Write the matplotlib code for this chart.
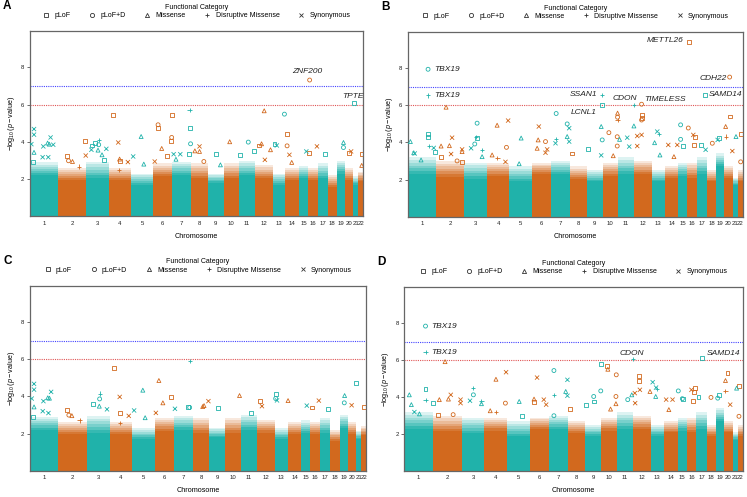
import numpy as np
import matplotlib
matplotlib.use("Agg")
import matplotlib.pyplot as plt

plt.rcParams["font.family"] = ["Liberation Sans", "DejaVu Sans"]
plt.rcParams["mathtext.fontset"] = "custom"
plt.rcParams["mathtext.rm"] = "Liberation Sans"
plt.rcParams["mathtext.it"] = "Liberation Sans:italic"

TEAL = "#20B2AA"
ORANGE = "#D2691E"

CHROMS = list(range(1, 23))
CHROM_LEN = [85, 85, 68, 66, 68, 57, 57, 50, 48, 46, 49, 53, 38, 41, 27, 29, 30, 28, 24, 25, 16, 14]

# bulk of non-significant variants: solid band height and top of the speckled fringe
BULK_AC = [2.2, 1.95, 2.05, 1.95, 1.7, 2.15, 2.2, 2.05, 1.8, 2.05, 2.2, 2.05, 1.7, 1.95, 2.05, 1.95, 2.05, 1.6, 2.3, 1.95, 1.7, 1.9]
TOP_AC = [2.9, 2.6, 2.95, 2.6, 2.3, 2.85, 2.95, 2.85, 2.3, 2.85, 3.0, 2.75, 2.3, 2.6, 2.7, 2.6, 2.85, 2.2, 3.0, 2.6, 2.15, 2.4]
BULK_BD = [2.3, 2.15, 2.05, 2.2, 1.9, 2.3, 2.3, 2.05, 1.9, 2.2, 2.3, 2.3, 1.9, 2.1, 2.2, 2.1, 2.3, 1.9, 2.7, 2.1, 1.7, 1.9]
TOP_BD = [3.2, 3.0, 2.9, 2.9, 2.7, 2.9, 3.0, 2.7, 2.5, 2.9, 3.2, 3.0, 2.5, 2.7, 2.9, 2.9, 3.2, 2.5, 3.4, 2.7, 2.1, 2.5]

CATS = ["pLoF", "pLoF+D", "Missense", "Disruptive Missense", "Synonymous"]
CAT_CODE = ["L", "D", "M", "X", "S"]
MARKERS = {"L": "s", "D": "o", "M": "^", "X": "+", "S": "x"}

# (chromosome, position within chromosome, -log10 p, category)
POINTS_A = [
    (1, 4, 3.88, "S"), (1, 12, 4.69, "S"), (1, 12, 4.39, "S"), (1, 12, 3.44, "M"), (1, 8, 2.9, "L"),
    (1, 40, 3.76, "S"), (1, 53, 3.94, "M"), (1, 58, 3.88, "M"), (1, 62, 4.24, "S"), (1, 70, 3.85, "S"),
    (1, 55, 3.18, "S"), (1, 38, 3.18, "S"),
    (2, 26, 3.26, "L"), (2, 43, 2.95, "M"), (2, 31, 2.99, "D"), (2, 63, 2.68, "X"), (2, 81, 4.06, "L"), (2, 83, 3.27, "S"),
    (3, 17, 3.81, "L"), (3, 25, 3.94, "L"), (3, 38, 4.11, "X"), (3, 37, 3.85, "D"), (3, 35, 3.56, "M"),
    (3, 47, 3.31, "M"), (3, 60, 3.63, "S"), (3, 15, 3.58, "S"), (3, 52, 3.04, "L"),
    (4, 12, 5.46, "L"), (4, 28, 3.97, "S"), (4, 32, 3.0, "L"), (4, 32, 3.08, "M"), (4, 57, 2.92, "S"), (4, 30, 2.5, "X"),
    (5, 31, 4.29, "M"), (5, 7, 3.22, "S"), (5, 39, 2.81, "M"),
    (6, 14, 4.92, "D"), (6, 14, 4.76, "L"), (6, 25, 3.65, "M"), (6, 4, 2.95, "S"), (6, 55, 5.42, "L"),
    (6, 52, 4.06, "L"), (6, 55, 4.24, "D"), (6, 42, 3.25, "L"),
    (7, 52, 5.73, "X"), (7, 54, 4.74, "L"), (7, 55, 3.9, "D"), (7, 49, 3.36, "L"), (7, 4, 3.34, "S"),
    (7, 24, 3.34, "S"), (7, 11, 3.07, "M"),
    (8, 11, 3.52, "M"), (8, 25, 3.49, "M"), (8, 25, 3.76, "S"), (8, 38, 2.95, "D"),
    (9, 26, 3.36, "L"), (9, 38, 2.77, "M"),
    (10, 18, 4.01, "M"),
    (11, 28, 3.99, "D"), (11, 44, 3.49, "L"), (11, 2, 3.31, "L"),
    (12, 27, 5.67, "M"), (12, 12, 3.81, "L"), (12, 19, 3.9, "M"), (12, 29, 3.04, "S"), (12, 46, 3.58, "M"),
    (13, 35, 5.49, "D"), (13, 5, 3.88, "L"), (13, 12, 3.81, "S"),
    (14, 5, 4.42, "L"), (14, 5, 3.79, "D"), (14, 12, 3.31, "S"), (14, 19, 2.9, "M"),
    (15, 22, 3.49, "S"),
    (16, 5, 7.32, "D"), (16, 4, 3.4, "L"), (16, 27, 3.76, "S"),
    (17, 22, 3.36, "L"),
    (19, 20, 3.97, "M"), (19, 20, 3.7, "D"),
    (20, 12, 3.4, "L"), (20, 19, 3.49, "S"),
    (21, 3, 6.07, "L"),
    (22, 10, 3.34, "L"), (22, 10, 2.74, "M"),
]

POINTS_B = [
    (1, 8, 4.04, "M"), (1, 21, 3.4, "S"), (1, 18, 3.44, "M"), (1, 61, 4.43, "L"), (1, 61, 4.29, "L"),
    (1, 63, 3.8, "X"), (1, 78, 3.7, "S"), (1, 83, 3.5, "L"), (1, 40, 3.05, "M"), (1, 61, 7.93, "D"), (1, 61, 6.52, "X"),
    (2, 30, 5.89, "M"), (2, 15, 3.8, "M"), (2, 40, 3.82, "M"), (2, 48, 4.25, "S"), (2, 45, 3.37, "S"),
    (2, 16, 3.23, "L"), (2, 78, 3.62, "S"), (2, 78, 3.5, "M"), (2, 78, 2.95, "L"), (2, 63, 3.0, "D"),
    (3, 38, 5.03, "D"), (3, 35, 4.3, "X"), (3, 38, 4.22, "L"), (3, 31, 3.91, "D"), (3, 20, 3.68, "S"),
    (3, 53, 3.59, "X"), (3, 53, 3.23, "M"),
    (4, 30, 4.92, "M"), (4, 63, 5.17, "S"), (4, 58, 3.73, "D"), (4, 15, 3.32, "M"), (4, 31, 3.14, "X"), (4, 55, 2.95, "S"),
    (5, 36, 4.23, "M"), (5, 30, 2.85, "M"),
    (6, 21, 4.85, "S"), (6, 19, 4.13, "M"), (6, 41, 4.04, "D"), (6, 46, 3.62, "S"), (6, 41, 3.44, "S"), (6, 16, 3.68, "M"),
    (7, 16, 5.55, "D"), (7, 49, 4.31, "M"), (7, 49, 4.99, "D"), (7, 55, 4.76, "S"), (7, 55, 4.04, "S"),
    (7, 16, 4.18, "X"), (7, 14, 3.95, "S"),
    (8, 7, 3.4, "L"),
    (9, 5, 3.62, "L"), (9, 47, 6.56, "X"), (9, 46, 6.02, "L"), (9, 44, 4.85, "M"), (9, 47, 4.13, "D"), (9, 44, 3.3, "S"),
    (10, 19, 4.52, "D"), (10, 32, 3.28, "M"), (10, 45, 5.57, "M"), (10, 45, 5.35, "D"), (10, 45, 5.2, "X"),
    (10, 44, 4.3, "D"), (10, 44, 3.8, "D"),
    (11, 5, 4.16, "M"), (11, 28, 4.25, "S"), (11, 34, 3.77, "S"), (11, 48, 6.02, "X"), (11, 48, 4.88, "M"),
    (12, 22, 6.05, "D"), (12, 22, 5.48, "L"), (12, 22, 5.3, "L"), (12, 22, 5.2, "D"), (12, 9, 4.34, "S"),
    (12, 22, 4.4, "S"), (12, 9, 3.8, "S"),
    (13, 8, 3.98, "M"), (13, 16, 4.58, "S"), (13, 20, 4.43, "X"), (13, 24, 3.32, "M"),
    (14, 11, 3.86, "S"), (14, 28, 3.23, "M"), (14, 38, 3.86, "S"),
    (15, 7, 4.94, "D"), (15, 7, 4.16, "D"), (15, 14, 3.82, "L"),
    (16, 5, 9.42, "L"), (16, 3, 4.77, "D"), (16, 18, 4.4, "S"), (16, 22, 4.3, "L"), (16, 20, 3.85, "L"),
    (17, 24, 6.56, "L"), (17, 11, 3.86, "L"), (17, 26, 3.6, "S"),
    (18, 16, 3.95, "D"),
    (19, 8, 4.22, "L"), (19, 4, 4.13, "S"),
    (20, 16, 7.51, "D"), (20, 16, 5.39, "L"), (20, 4, 4.85, "M"), (20, 4, 4.31, "X"), (20, 24, 3.53, "S"),
    (21, 10, 4.31, "M"),
    (22, 8, 4.43, "L"), (22, 8, 2.95, "D"),
]

POINTS_C = [
    (1, 5, 3.88, "S"), (1, 12, 4.67, "S"), (1, 12, 4.36, "S"), (1, 12, 3.43, "M"), (1, 40, 3.74, "S"),
    (1, 53, 3.92, "M"), (1, 58, 3.9, "M"), (1, 63, 4.24, "S"), (1, 38, 3.2, "S"), (1, 55, 3.1, "S"), (1, 8, 2.9, "L"),
    (2, 26, 3.25, "L"), (2, 40, 2.96, "M"), (2, 31, 2.99, "D"), (2, 63, 2.7, "X"),
    (3, 17, 3.61, "L"), (3, 38, 4.15, "X"), (3, 38, 3.86, "D"), (3, 37, 3.47, "M"), (3, 60, 3.3, "S"),
    (4, 12, 5.53, "L"), (4, 30, 3.97, "S"), (4, 32, 3.08, "L"), (4, 30, 2.57, "X"), (4, 57, 2.95, "S"),
    (5, 33, 4.33, "M"), (5, 7, 3.24, "S"), (5, 40, 2.85, "M"),
    (6, 13, 4.85, "M"), (6, 25, 3.65, "M"), (6, 4, 3.11, "S"), (6, 49, 3.97, "L"),
    (7, 50, 5.89, "X"), (7, 44, 3.42, "L"), (7, 4, 3.33, "S"), (7, 48, 3.4, "D"),
    (8, 34, 3.5, "M"), (8, 47, 3.74, "S"), (8, 30, 3.45, "M"),
    (9, 25, 3.38, "L"),
    (10, 42, 4.04, "M"),
    (11, 30, 3.1, "L"),
    (12, 9, 3.74, "L"), (12, 14, 3.47, "S"),
    (13, 2, 4.1, "L"), (13, 2, 3.88, "D"), (13, 6, 3.78, "S"),
    (14, 1, 3.77, "M"),
    (15, 16, 3.5, "S"),
    (16, 25, 3.77, "S"), (16, 5, 3.4, "L"),
    (17, 22, 3.3, "L"),
    (19, 15, 4.04, "M"), (19, 14, 3.65, "D"),
    (20, 12, 3.52, "S"),
    (21, 1, 4.72, "L"),
    (22, 7, 3.42, "L"),
]

POINTS_D = [
    (1, 63, 7.84, "D"), (1, 63, 6.43, "X"), (1, 15, 4.13, "M"), (1, 21, 3.6, "M"), (1, 63, 4.44, "L"),
    (1, 63, 3.87, "X"), (1, 84, 3.68, "L"), (1, 30, 3.2, "S"), (1, 45, 3.1, "M"),
    (2, 36, 5.92, "M"), (2, 19, 3.87, "M"), (2, 53, 4.13, "S"), (2, 46, 3.9, "M"), (2, 82, 3.87, "S"),
    (2, 82, 3.68, "S"), (2, 60, 3.06, "D"), (2, 15, 3.06, "L"),
    (3, 35, 4.49, "X"), (3, 35, 4.13, "D"), (3, 25, 3.81, "S"), (3, 59, 3.81, "X"), (3, 59, 3.65, "M"),
    (4, 34, 4.97, "M"), (4, 64, 5.35, "S"), (4, 62, 3.68, "D"), (4, 17, 3.27, "M"), (4, 34, 3.18, "X"),
    (5, 37, 3.77, "M"), (5, 45, 3.0, "L"),
    (6, 22, 5.06, "S"), (6, 13, 3.9, "M"), (6, 13, 3.75, "L"), (6, 42, 3.87, "S"), (6, 49, 3.6, "S"),
    (7, 15, 5.44, "D"), (7, 15, 4.1, "X"), (7, 55, 4.94, "S"), (7, 50, 4.31, "M"), (7, 55, 4.08, "S"), (7, 15, 3.0, "D"),
    (8, 6, 3.36, "L"),
    (9, 4, 3.6, "L"), (9, 26, 4.04, "D"), (9, 26, 3.77, "L"), (9, 47, 5.8, "L"), (9, 47, 4.34, "D"),
    (10, 18, 5.68, "L"), (10, 20, 5.51, "M"), (10, 45, 5.21, "D"), (10, 44, 4.04, "D"), (10, 44, 3.65, "M"), (10, 28, 3.36, "M"),
    (11, 49, 6.05, "X"), (11, 45, 4.13, "M"), (11, 33, 3.87, "D"),
    (12, 18, 5.15, "L"), (12, 18, 4.88, "L"), (12, 20, 4.4, "S"), (12, 5, 4.22, "S"), (12, 6, 3.68, "S"), (12, 50, 4.31, "M"),
    (13, 5, 4.81, "S"), (13, 15, 4.52, "S"), (13, 17, 4.44, "X"), (13, 14, 4.04, "M"),
    (14, 7, 3.87, "S"), (14, 26, 3.87, "S"), (14, 15, 3.33, "M"),
    (15, 2, 4.34, "D"), (15, 14, 3.92, "D"), (15, 17, 3.92, "L"),
    (16, 24, 4.52, "L"), (16, 22, 4.28, "L"), (16, 14, 4.4, "S"), (16, 18, 3.8, "L"),
    (17, 16, 6.1, "L"), (17, 6, 4.0, "L"),
    (18, 13, 3.99, "D"),
    (19, 9, 4.13, "L"), (19, 5, 3.95, "D"),
    (20, 10, 5.3, "L"), (20, 4, 4.9, "M"), (20, 4, 4.34, "X"), (20, 18, 3.6, "S"),
    (21, 12, 4.49, "M"),
    (22, 3, 4.62, "L"), (22, 3, 2.97, "D"),
]

# labelled genes: (name, chromosome, position, -log10 p)
GENES_A = [("ZNF200", 16, 5, 7.32), ("TPTE", 21, 3, 6.07)]
GENES_B = [("TBX19", 1, 61, 7.93), ("TBX19", 1, 61, 6.52), ("METTL26", 16, 5, 9.42),
           ("CDH22", 20, 16, 7.51), ("SAMD14", 17, 24, 6.56), ("SSAN1", 9, 47, 6.56),
           ("LCNL1", 9, 46, 6.02), ("CDON", 11, 48, 6.02), ("TIMELESS", 12, 22, 6.05)]
GENES_C = []
GENES_D = [("TBX19", 1, 63, 7.84), ("TBX19", 1, 63, 6.43), ("CDON", 11, 49, 6.05),
           ("SAMD14", 17, 16, 6.1)]

# label placement (offset in points, horizontal alignment)
LABEL_POS = {
    ("A", "ZNF200"): (-1.5, 6.5, "center"), ("A", "TPTE"): (-1, 5, "center"),
    ("B", "METTL26"): (-3.6, 0.5, "right"), ("B", "CDH22"): (-2.2, -0.7, "right"),
    ("B", "SAMD14"): (2.4, 0, "left"), ("B", "SSAN1"): (-3.3, 0.5, "right"),
    ("B", "LCNL1"): (-3.6, -5.3, "right"), ("B", "CDON"): (-6.5, 4.5, "center"),
    ("B", "TIMELESS"): (2.2, 3.1, "left"), ("B", "TBX19"): (4.3, -0.3, "left"),
    ("D", "TBX19"): (4.3, -0.3, "left"), ("D", "CDON"): (-1.3, 4.5, "center"),
    ("D", "SAMD14"): (3.6, 3.4, "left"),
}

PANELS = [
    ("A", [0.0402, 0.5644, 0.4458, 0.3732], BULK_AC, TOP_AC, POINTS_A, GENES_A),
    ("B", [0.5458, 0.5640, 0.4484, 0.3722], BULK_BD, TOP_BD, POINTS_B, GENES_B),
    ("C", [0.0402, 0.0529, 0.4498, 0.3723], BULK_AC, TOP_AC, POINTS_C, GENES_C),
    ("D", [0.5412, 0.0517, 0.4530, 0.3708], BULK_BD, TOP_BD, POINTS_D, GENES_D),
]

FRINGE_ALPHA = [0.9, 0.75, 0.6, 0.45, 0.3, 0.15]

starts = np.concatenate([[0], np.cumsum(CHROM_LEN)[:-1]])
total = float(np.sum(CHROM_LEN))


def chrom_color(c):
    return TEAL if c % 2 else ORANGE


fig = plt.figure(figsize=(7.47, 4.97), dpi=100)

for letter, rect, bulk, top, points, genes in PANELS:
    ax = fig.add_axes(rect)
    for i, c in enumerate(CHROMS):
        col = chrom_color(c)
        ax.bar(starts[i], bulk[i], width=CHROM_LEN[i], align="edge", color=col, lw=0, zorder=1)
        step = (top[i] - bulk[i]) / len(FRINGE_ALPHA)
        for k, a in enumerate(FRINGE_ALPHA):
            ax.bar(starts[i], step, bottom=bulk[i] + k * step, width=CHROM_LEN[i],
                   align="edge", color=col, alpha=a, lw=0, zorder=1)

    ax.axhline(7, color="#4444ff", ls=(0, (1, 1)), lw=0.8, zorder=2)
    ax.axhline(6, color="#e05555", ls=(0, (1, 1)), lw=0.8, zorder=2)

    chrom = np.array([p[0] for p in points])
    pos = np.array([p[1] for p in points], dtype=float)
    lp = np.array([p[2] for p in points])
    cat = np.array([p[3] for p in points])
    x = starts[chrom - 1] + pos
    cols = np.array([chrom_color(c) for c in chrom])
    for code in CAT_CODE:
        m = cat == code
        if not m.any():
            continue
        if code in ("X", "S"):
            ax.scatter(x[m], lp[m], marker=MARKERS[code], c=list(cols[m]), s=9, lw=0.6, zorder=3)
        else:
            ax.scatter(x[m], lp[m], marker=MARKERS[code], facecolors="none",
                       edgecolors=list(cols[m]), s=8, lw=0.6, zorder=3)

    for name, c, p, v in genes:
        dx, dy, ha = LABEL_POS[(letter, name)]
        ax.annotate(name, (starts[c - 1] + p, v), xytext=(dx, dy), textcoords="offset points",
                    ha=ha, va="center", fontsize=6, style="italic", color="#222222", zorder=4)

    ax.set_xlim(0, total)
    ax.set_ylim(0, 9.95)
    ax.set_yticks([2, 4, 6, 8])
    ax.set_xticks(starts + np.array(CHROM_LEN) / 2)
    ax.set_xticklabels([str(c) for c in CHROMS])
    ax.tick_params(axis="x", length=0, pad=3, labelsize=4.3, colors="#222222")
    ax.tick_params(axis="y", length=2, width=0.6, pad=2, labelsize=4.3, colors="#222222")
    ax.tick_params(axis="y", color="#555555")
    for s in ax.spines.values():
        s.set_color("#666666")
        s.set_linewidth(0.9)
    ax.set_xlabel("Chromosome", fontsize=5.2, labelpad=5)
    ax.set_ylabel(r"$-\log_{10}(p - \mathrm{value})$", fontsize=5.2, labelpad=3)

    handles = [plt.Line2D([], [], ls="none", marker=MARKERS[cd], color="#333333",
                          markerfacecolor="none", markersize=3, mew=0.6) for cd in CAT_CODE]
    leg = ax.legend(handles, CATS, title="Functional Category", ncol=5, loc="lower center",
                    bbox_to_anchor=(0.5, 1.045), frameon=False, fontsize=5, title_fontsize=5,
                    columnspacing=2.6, handlelength=1.0, handletextpad=0.7, borderpad=0.0,
                    labelspacing=0.2)
    leg._legend_box.sep = 1

    fig.text(rect[0] - 0.036, rect[1] + rect[3] + 0.05, letter, fontsize=8.5,
             fontweight="bold", va="center", ha="left")

fig.savefig("out.png", dpi=100)
